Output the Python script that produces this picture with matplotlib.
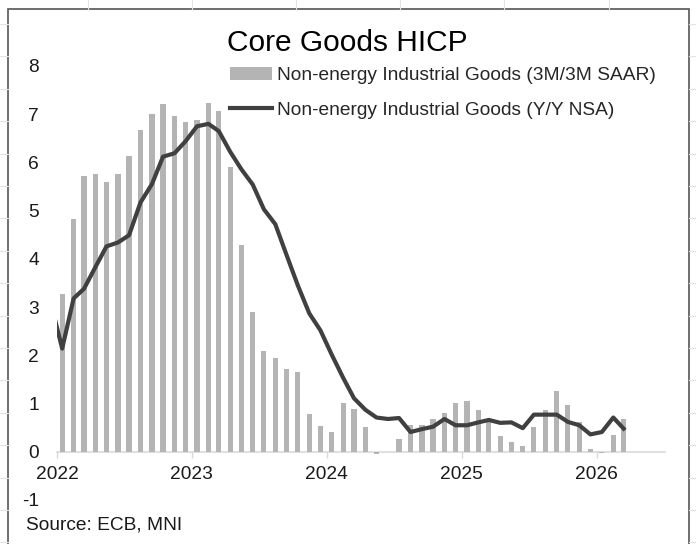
import matplotlib
matplotlib.use("Agg")
import matplotlib.pyplot as plt
import matplotlib.dates as mdates
from matplotlib.lines import Line2D
from matplotlib.patches import Rectangle
import pandas as pd

# ---- data ----
bar_start = "2022-01"
bar_values = [
    3.28, 4.82, 5.72, 5.77, 5.60, 5.77, 6.13, 6.67, 7.01, 7.22, 6.96, 6.83,
    6.87, 7.24, 7.06, 5.90, 4.29, 2.90, 2.10, 1.94, 1.71, 1.66, 0.78, 0.53,
    0.41, 1.01, 0.89, 0.51, -0.05, 0.00, 0.27, 0.56, 0.56, 0.67, 0.80, 1.01,
    1.06, 0.87, 0.67, 0.32, 0.20, 0.13, 0.52, 0.87, 1.26, 0.96, 0.62, 0.06,
    -0.03, 0.34, 0.68,
]
line_start = "2021-12"
line_values = [
    3.10,
    2.14, 3.18, 3.38, 3.83, 4.26, 4.34, 4.49, 5.17, 5.55, 6.12, 6.19, 6.44,
    6.75, 6.80, 6.65, 6.22, 5.86, 5.54, 5.03, 4.72, 4.07, 3.45, 2.87, 2.52,
    2.01, 1.53, 1.11, 0.87, 0.71, 0.68, 0.70, 0.41, 0.47, 0.52, 0.68, 0.55,
    0.55, 0.61, 0.66, 0.60, 0.61, 0.49, 0.77, 0.77, 0.77, 0.62, 0.55, 0.36,
    0.41, 0.71, 0.48,
]
bar_label = "Non-energy Industrial Goods (3M/3M SAAR)"
line_label = "Non-energy Industrial Goods (Y/Y NSA)"
title = "Core Goods HICP"
source = "Source: ECB, MNI"
y_ticks = [-1, 0, 1, 2, 3, 4, 5, 6, 7, 8]

bar_dates = pd.date_range(bar_start, periods=len(bar_values), freq="MS") + pd.Timedelta(days=14)
line_dates = pd.date_range(line_start, periods=len(line_values), freq="MS") + pd.Timedelta(days=14)

plt.rcParams["font.family"] = ["Liberation Sans", "DejaVu Sans"]

W, H = 696, 544
fig = plt.figure(figsize=(W / 100, H / 100), dpi=100)

# spreadsheet background gridlines outside the chart frame
grid_c = "#e3e3e3"
for k in range(17):
    yp = 24 + 32.4 * k
    fy = 1 - yp / H
    fig.add_artist(Line2D([0, 8 / W], [fy, fy], color=grid_c, lw=0.8))
    fig.add_artist(Line2D([689 / W, 1], [fy, fy], color=grid_c, lw=0.8))
for xp in [88, 192, 296, 400, 504, 609]:
    fig.add_artist(Line2D([xp / W, xp / W], [1, 1 - 9 / H], color=grid_c, lw=0.8))

# chart frame
fig.add_artist(Rectangle((8 / W, -0.05), (689 - 8) / W, 1 - 9 / H + 0.05,
                         transform=fig.transFigure, fill=False,
                         edgecolor="#555555", lw=1.2))

ax = fig.add_axes([57 / W, (H - 500) / H, (665 - 57) / W, (500 - 66) / H])
ax.set_facecolor("none")

bars = ax.bar(bar_dates, bar_values, width=14, color="#b4b4b4", label=bar_label, zorder=2)
line, = ax.plot(line_dates, line_values, color="#404040", lw=3.0, label=line_label,
                solid_joinstyle="round", zorder=3)

ax.set_ylim(-1, 8)
ax.set_xlim(pd.Timestamp("2022-01-01"), pd.Timestamp("2026-07-05"))
ax.set_yticks(y_ticks)
ax.set_yticklabels([str(v) for v in y_ticks])

ax.xaxis.set_major_locator(mdates.YearLocator())
ax.xaxis.set_major_formatter(mdates.DateFormatter("%Y"))

for s in ["top", "right", "left"]:
    ax.spines[s].set_visible(False)
ax.spines["bottom"].set_position(("data", 0))
ax.spines["bottom"].set_color("#d9d9d9")
ax.spines["bottom"].set_linewidth(1.2)
ax.spines["bottom"].set_zorder(1)

ax.tick_params(axis="y", length=0, pad=13, labelsize=13.8, labelcolor="#1a1a1a")
ax.tick_params(axis="x", direction="out", length=4, width=1, color="#d9d9d9",
               pad=6, labelsize=13.8, labelcolor="#1a1a1a")

fig.text(347 / W, 1 - 43 / H, title, ha="center", va="center", fontsize=21.5, color="#000000")
fig.text(26 / W, 1 - 525 / H, source, ha="left", va="center", fontsize=13.8, color="#1a1a1a")

leg = fig.legend(handles=[bars, line], labels=[bar_label, line_label],
                 loc="upper left", bbox_to_anchor=(230 / W, 1 - 67 / H),
                 frameon=False, fontsize=13.8, handlelength=2.2, handletextpad=0.25,
                 labelspacing=0.9, borderpad=0, borderaxespad=0)
for t in leg.get_texts():
    t.set_color("#262626")

fig.savefig("out.png", dpi=100)
